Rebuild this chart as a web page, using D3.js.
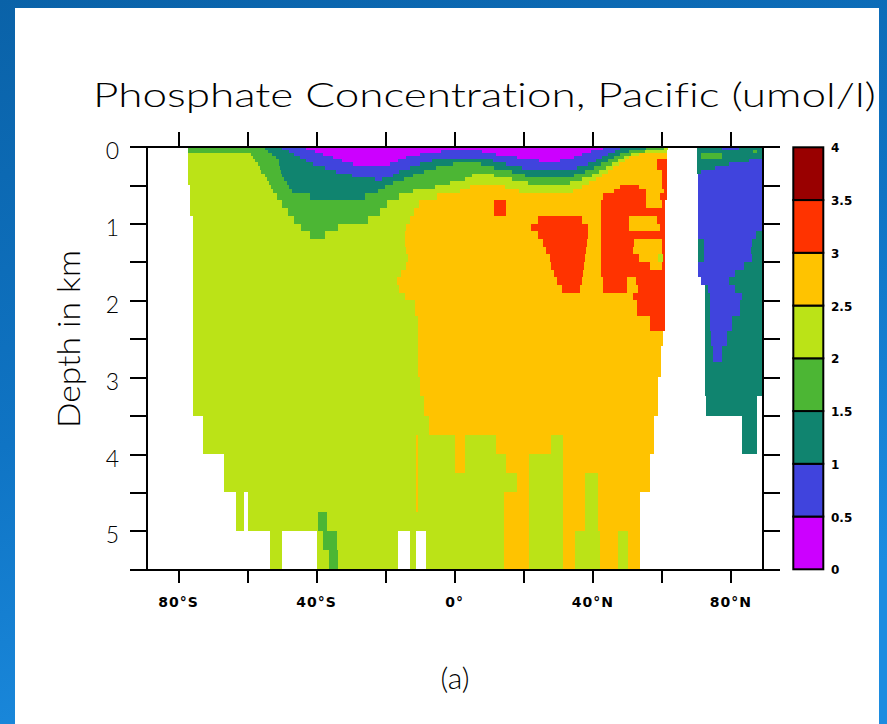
<!DOCTYPE html>
<html>
    <head>
        <meta charset="utf-8">
        <style>

        html, body {
            margin: 0px;
            padding: 0px;
        }

        svg {
            display: block;
        }

        .title, .label {
            font-family: Lato, "Open Sans", sans-serif;
            font-weight: 300;
            font-variant-ligatures: none;
            fill: #000;
        }

        .tick-label {
            font-family: "DejaVu Sans", sans-serif;
            font-weight: bold;
            fill: #000;
        }

        .axis path,
        .axis line {
          fill: none;
          stroke: #000;
          stroke-width: 2px;
          shape-rendering: crispEdges;
        }

        </style>
    </head>
    <body>
        <svg class="chart" width="887" height="724"></svg>
        <script src="https://d3js.org/d3.v7.min.js"></script>
        <script>
            // contour levels (umol/l) and band colours
            var levels = [0, 0.5, 1, 1.5, 2, 2.5, 3, 3.5, 4];
            var bandColors = ["#cc00ff", "#4044dd", "#10846f", "#4cb634", "#bbe317", "#ffc300", "#ff3300", "#990000"];

            var latTicks = [-80, -60, -40, -20, 0, 20, 40, 60, 80];
            var latLabels = ["80°S", "", "40°S", "", "0°", "", "40°N", "", "80°N"];
            var depthTicks = [0, 0.5, 1, 1.5, 2, 2.5, 3, 3.5, 4, 4.5, 5, 5.5];
            var depthLabels = ["0", "", "1", "", "2", "", "3", "", "4", "", "5", ""];
            var levelLabels = ["0", "0.5", "1", "1.5", "2", "2.5", "3", "3.5", "4"];

            // model layer edges in km
            var depthEdges = [0, 0.04, 0.08, 0.12, 0.16, 0.2, 0.25, 0.3, 0.35, 0.4, 0.45, 0.5, 0.55, 0.6, 0.7, 0.8,
                              0.9, 1.0, 1.1, 1.2, 1.3, 1.4, 1.5, 1.6, 1.7, 1.8, 1.9, 2.0, 2.2, 2.4, 2.6, 2.8, 3.0,
                              3.25, 3.5, 3.75, 4.0, 4.25, 4.5, 4.75, 5.0, 5.25, 5.5];

            // one string per layer: "startLat:band" runs, band = index into bandColors, "." = land
            var sectionRows = [
                "-90:. -77.3:3 -55:2 -50:1 -43:0 43:1 48:2 55.5:3 60.5:4 61.9:. 70.1:2 77.3:1 82.3:2",
                "-90:. -77.3:3 -54:2 -48.1:1 -40.5:0 -4:1 8:0 39.5:1 46.3:2 50.5:3 55:4 61.4:. 70.1:2 86.5:3 87.5:2",
                "-90:. -77.3:4 -59:3 -53:2 -46.6:1 -38:0 -10:1 12:0 37:1 44.5:2 48:3 51:4 53.5:5 61.4:. 70.1:2 71.4:3 77.3:2",
                "-90:. -77.3:4 -58.5:3 -51.8:2 -44.8:1 -35.3:0 -14:1 18:0 34.5:1 42.8:2 46:3 49:4 50.5:5 61.4:. 70.1:2 71.4:3 77.3:2",
                "-90:. -77.3:4 -57.7:3 -51:2 -43.1:1 -32.7:0 -16.5:1 -6.5:2 11:1 24.5:0 30.5:1 40.8:2 44.3:3 47.3:4 49.3:5 58.5:6 61.4:. 70.1:2 85.2:1",
                "-90:. -77.3:4 -57:3 -50.9:2 -41:1 -29.5:0 -18.8:1 -10:2 -0.5:3 7.5:2 15:1 38.5:2 42.5:3 45.5:4 47.5:5 58.5:6 61.4:. 70.1:2 79.3:1",
                "-90:. -77.3:4 -56.5:3 -50.7:2 -37.7:1 -13:2 -5.5:3 11.5:2 19.5:1 35.5:2 40.2:3 43.8:4 45.8:5 58.5:6 61.4:. 70.1:2 75.3:1",
                "-90:. -77.3:4 -56:3 -50.2:2 -34.3:1 -16.2:2 -9:3 16.5:2 37.7:3 41.8:4 44.3:5 60:6 61.4:. 70.1:2 71.4:1",
                "-90:. -77.3:4 -55:3 -50:2 -29.8:1 -18:2 -12:3 5:4 11.5:3 20.5:2 34.5:3 39.8:4 42.7:5 60:6 61.4:. 70.6:1",
                "-90:. -77.3:4 -54.3:3 -49.3:2 -23:1 -21:2 -14.7:3 3:4 16.5:3 37:4 41:5 60:6 61.4:. 70.6:1",
                "-90:. -77.3:4 -53.7:3 -48.7:2 -17.8:3 -1.5:4 21.3:3 33.5:4 39:5 60:6 61.4:. 70.6:1",
                "-90:. -76.8:4 -53.1:3 -48:2 -20.1:3 -5.8:4 4.5:5 14.5:4 36.8:5 48:6 53.5:5 60:6 61.4:. 70.6:1",
                "-90:. -76.8:4 -52.5:3 -47:2 -22.2:3 -12.2:4 1.5:5 18.5:4 34.3:5 46:6 55.5:5 60.5:6 61.4:. 70.6:1",
                "-90:. -76.8:4 -51.4:3 -42:2 -26:3 -16:4 -5.2:5 43:6 55.5:5 59.5:6 61.4:. 70.6:1",
                "-90:. -76.8:4 -50:3 -19.7:4 -10.2:5 11.5:6 15:5 42.5:6 55.5:5 60:6 60.9:. 70.6:1",
                "-90:. -76.6:4 -48.2:3 -21.6:4 -11.8:5 11.5:6 15:5 42.5:6 60.9:. 70.6:1",
                "-90:. -75.7:4 -46.4:3 -25.2:4 -13:5 24:6 37:5 42.5:6 50.5:5 58.5:6 60.9:. 70.6:1",
                "-90:. -75.7:4 -44.6:3 -33.7:4 -14:5 22:6 38.6:5 42.5:6 50.5:5 59.5:6 60.9:. 70.6:1",
                "-90:. -75.7:4 -42:3 -37.5:4 -14.5:5 24:6 38.5:5 42.5:6 60.9:. 70.6:1 87.2:2",
                "-90:. -75.7:4 -14.4:5 25.5:6 38.2:5 42.5:6 52:5 60:6 60.9:. 70.6:2 72.3:1 86.2:2",
                "-90:. -75.7:4 -14:5 26.5:6 38:5 42.5:6 51.5:5 60:6 60.9:. 70.6:2 72.3:1 85.7:2",
                "-90:. -75.7:4 -13.5:5 27.5:6 37.8:5 42.5:6 53.5:5 59:4 60.2:6 60.9:. 70.6:2 72.3:1 86.2:2",
                "-90:. -75.7:4 -14:5 28:6 37.5:5 42.5:6 56.5:5 60:6 60.9:. 70.6:1 83.7:2",
                "-90:. -75.7:4 -15.5:5 28.7:6 37.2:5 42.5:6 60.9:. 70.6:1 81.3:2",
                "-90:. -75.7:4 -16.8:5 29.5:6 36.8:5 43:6 50:5 52.5:6 60.9:. 71.4:1 79.3:2",
                "-90:. -75.7:4 -16:5 31:6 36.3:5 43:6 50:5 53:6 60.9:. 72.4:2 73.3:1 81.3:2",
                "-90:. -75.7:4 -14.5:5 51.5:6 60.9:. 72.4:2 73.8:1 83.2:2",
                "-90:. -75.7:4 -11.5:5 52.8:6 60.9:. 72.4:2 74:1 82.7:2",
                "-90:. -75.7:4 -10.5:5 56.5:6 60.9:. 72.4:2 74:1 80.3:2",
                "-90:. -75.7:4 -10.5:5 60.2:. 72.4:2 74.3:1 78.8:2",
                "-90:. -75.7:4 -10.5:5 59.8:. 72.4:2 74.9:1 77.3:2",
                "-90:. -75.7:4 -10.5:5 59.8:. 72.4:2",
                "-90:. -75.7:4 -10:5 59:. 72.4:2",
                "-90:. -75.7:4 -9:5 59:. 72.9:2 87.5:.",
                "-90:. -72.8:4 -7.5:5 57.6:. 83.1:2 87.5:.",
                "-90:. -72.8:4 -11.3:5 -10.7:4 0:5 3:4 12:5 28:4 31.3:5 57.6:. 83.1:2 87.5:.",
                "-90:. -66.8:4 -11.3:5 -10.7:4 0:5 3:4 15:5 21.5:4 31.3:5 56.5:.",
                "-90:. -66.8:4 -11.3:5 -10.7:4 18:5 21.5:4 31.3:5 37.6:4 41.4:5 56.5:.",
                "-90:. -63.3:4 -60.9:. -59.8:4 -11.3:5 -10.7:4 14.2:5 21.5:4 31.3:5 37.6:4 41.4:5 53.7:.",
                "-90:. -63.3:4 -60.9:. -59.8:4 -39.6:3 -37:4 14.2:5 21.5:4 31.3:5 37.6:4 41.4:5 53.7:.",
                "-90:. -53.5:4 -50.1:. -39.9:4 -38:3 -34:4 -16.3:. -13:4 -11.3:. -8.2:4 14.2:5 21.5:4 31.3:5 34.7:4 42:5 47.4:4 50.3:5 53.7:.",
                "-90:. -53.5:4 -50.1:. -39.9:4 -36.4:3 -33.8:4 -16.3:. -13:4 -11.3:. -8.2:4 14.2:5 21.5:4 31.3:5 34.7:4 42:5 47.4:4 50.3:5 53.7:."
            ];

            var svg = d3.select(".chart");

            var plot = {left: 146.7, right: 762.7, top: 146.7, bottom: 569.3};

            var x = d3.scaleLinear().domain([-89.2, 89.2]).range([plot.left, plot.right]);
            var y = d3.scaleLinear().domain([0, 5.5]).range([plot.top, plot.bottom]);
            var color = d3.scaleThreshold().domain(levels.slice(1, -1)).range(bandColors);

            // slide background
            var defs = svg.append("defs");
            var grad = defs.append("linearGradient")
                .attr("id", "bg")
                .attr("x1", 0).attr("y1", 0).attr("x2", 0.35).attr("y2", 1);
            grad.append("stop").attr("offset", 0).attr("stop-color", "#0a62a8");
            grad.append("stop").attr("offset", 0.55).attr("stop-color", "#0f74c4");
            grad.append("stop").attr("offset", 1).attr("stop-color", "#1c8ce0");

            defs.append("clipPath").attr("id", "plotclip")
                .append("rect")
                .attr("x", plot.left).attr("y", plot.top)
                .attr("width", plot.right - plot.left).attr("height", plot.bottom - plot.top);

            svg.append("rect")
                .attr("width", 887).attr("height", 724)
                .attr("fill", "url(#bg)");
            svg.append("rect")
                .attr("x", 15).attr("y", 8)
                .attr("width", 864).attr("height", 716)
                .attr("fill", "#fff");

            // flatten rows into cells
            var cells = [];
            sectionRows.forEach(function(row, i) {
                var runs = row.split(" ").map(function(s) {
                    var p = s.split(":");
                    return {lat: +p[0], band: p[1]};
                });
                runs.forEach(function(r, j) {
                    if (r.band === ".") return;
                    var b = +r.band;
                    cells.push({
                        lat0: r.lat,
                        lat1: j + 1 < runs.length ? runs[j + 1].lat : 90,
                        d0: depthEdges[i],
                        d1: depthEdges[i + 1],
                        value: (levels[b] + levels[b + 1]) / 2
                    });
                });
            });

            svg.append("g")
                .attr("clip-path", "url(#plotclip)")
                .selectAll("rect")
                .data(cells)
                .enter().append("rect")
                .attr("x", function(d) { return Math.round(x(d.lat0)); })
                .attr("y", function(d) { return Math.round(y(d.d0)); })
                .attr("width", function(d) { return Math.round(x(d.lat1)) - Math.round(x(d.lat0)); })
                .attr("height", function(d) { return Math.round(y(d.d1)) - Math.round(y(d.d0)); })
                .attr("fill", function(d) { return color(d.value); })
                .attr("shape-rendering", "crispEdges");

            // axes on all four sides
            svg.append("g")
                .attr("class", "axis")
                .attr("transform", "translate(0," + plot.top + ")")
                .call(d3.axisTop(x).tickValues(latTicks).tickSize(15).tickSizeOuter(0).tickFormat(""));
            svg.append("g")
                .attr("class", "axis")
                .attr("transform", "translate(0," + plot.bottom + ")")
                .call(d3.axisBottom(x).tickValues(latTicks).tickSize(14).tickSizeOuter(0).tickFormat(""));
            svg.append("g")
                .attr("class", "axis")
                .attr("transform", "translate(" + plot.left + ",0)")
                .call(d3.axisLeft(y).tickValues(depthTicks).tickSize(17).tickSizeOuter(0).tickFormat(""));
            svg.append("g")
                .attr("class", "axis")
                .attr("transform", "translate(" + plot.right + ",0)")
                .call(d3.axisRight(y).tickValues(depthTicks).tickSize(17).tickSizeOuter(0).tickFormat(""));

            svg.append("g").selectAll("text")
                .data(latTicks)
                .enter().append("text")
                .attr("class", "tick-label")
                .attr("x", function(d) { return x(d); })
                .attr("y", 607)
                .attr("text-anchor", "middle")
                .style("font-size", "14px")
                .style("letter-spacing", "1px")
                .text(function(d, i) { return latLabels[i]; });

            svg.append("g").selectAll("text")
                .data(depthTicks)
                .enter().append("text")
                .attr("class", "label")
                .attr("x", 119)
                .attr("y", function(d) { return y(d) + 12.5; })
                .attr("text-anchor", "end")
                .style("font-size", "23px")
                .text(function(d, i) { return depthLabels[i]; });

            svg.append("text")
                .attr("class", "label")
                .attr("transform", "translate(80,339) rotate(-90)")
                .attr("text-anchor", "middle")
                .attr("textLength", 178)
                .attr("lengthAdjust", "spacingAndGlyphs")
                .style("font-size", "31px")
                .text("Depth in km");

            svg.append("text")
                .attr("class", "title")
                .attr("x", 93)
                .attr("y", 107)
                .attr("textLength", 783)
                .attr("lengthAdjust", "spacingAndGlyphs")
                .style("font-size", "34px")
                .text("Phosphate Concentration, Pacific (umol/l)");

            svg.append("text")
                .attr("class", "label")
                .attr("x", 455)
                .attr("y", 689)
                .attr("text-anchor", "middle")
                .style("font-size", "30px")
                .text("(a)");

            // colour bar
            var cb = d3.scaleLinear().domain([0, 4]).range([569.3, 147.3]);
            svg.append("g").selectAll("rect")
                .data(d3.range(levels.length - 1))
                .enter().append("rect")
                .attr("x", 793.3)
                .attr("width", 30)
                .attr("y", function(i) { return cb(levels[i + 1]); })
                .attr("height", function(i) { return cb(levels[i]) - cb(levels[i + 1]); })
                .attr("fill", function(i) { return color((levels[i] + levels[i + 1]) / 2); })
                .attr("stroke", "#000")
                .attr("stroke-width", 2);

            svg.append("g").selectAll("text")
                .data(levels)
                .enter().append("text")
                .attr("class", "tick-label")
                .attr("x", 831)
                .attr("y", function(d) { return cb(d) + 5; })
                .style("font-size", "12px")
                .text(function(d, i) { return levelLabels[i]; });
        </script>
    </body>
</html>
